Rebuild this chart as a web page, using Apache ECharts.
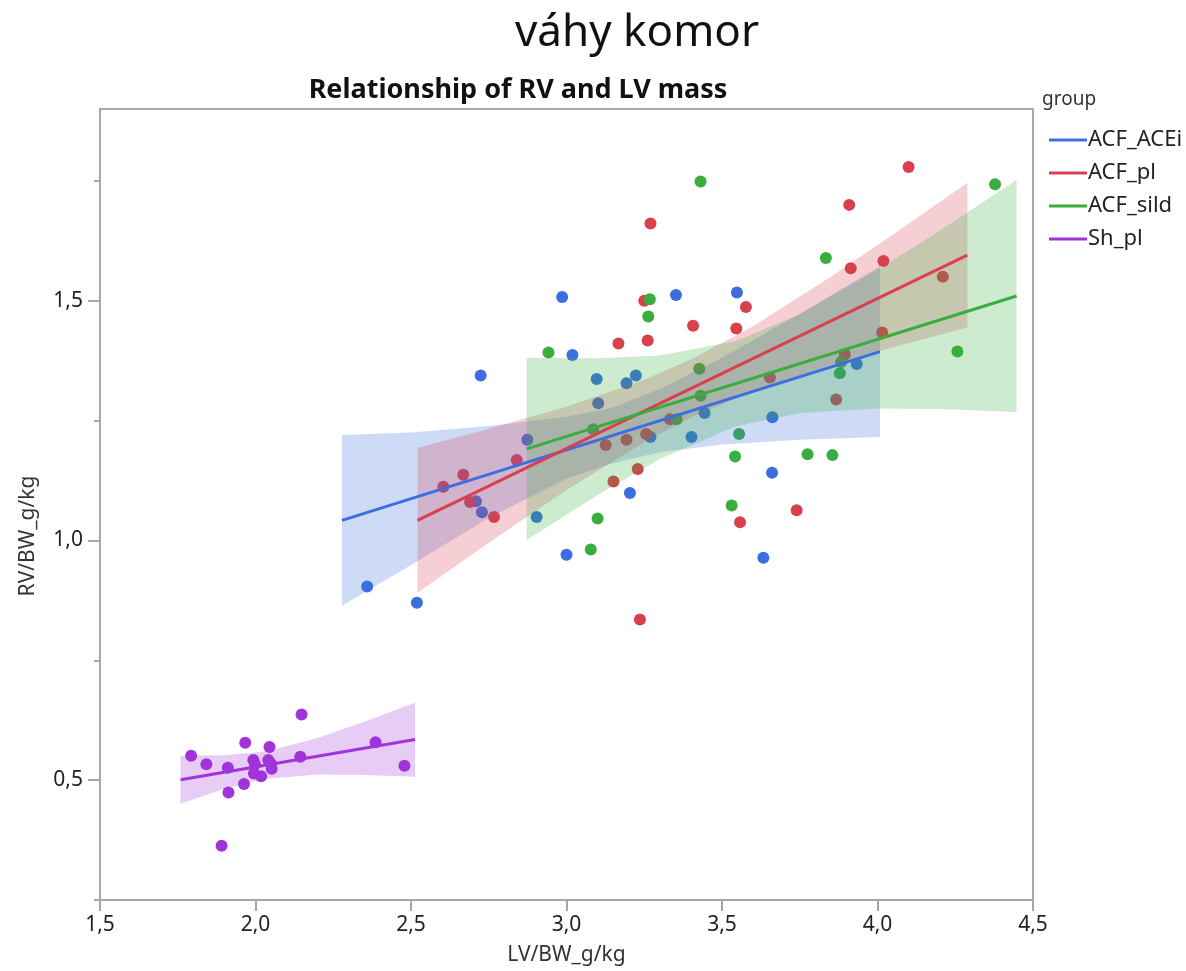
<!DOCTYPE html>
<html>
<head>
<meta charset="utf-8">
<title>váhy komor</title>
<script src="https://cdn.jsdelivr.net/npm/echarts@6/dist/echarts.min.js"></script>
<style>
  html, body { margin: 0; padding: 0; background: #fff; }
  #chart { width: 1186px; height: 971px; }
</style>
</head>
<body>
<div id="chart"></div>
<script>
// Group names and colours
const groups = ['ACF_ACEi', 'ACF_pl', 'ACF_sild', 'Sh_pl'];
const colors = ['#3b6ee0', '#d8404e', '#39ae3f', '#a034d8'];
const bandColors = ['rgba(59,110,224,0.25)', 'rgba(216,64,78,0.25)', 'rgba(57,174,63,0.25)', 'rgba(160,52,216,0.25)'];

// Individual animals: [LV/BW, RV/BW] in g/kg
const aceiPoints = [
  [2.986, 1.508], [3.019, 1.387], [2.724, 1.344], [3.097, 1.337], [3.193, 1.328], [3.223, 1.344],
  [3.102, 1.286], [2.874, 1.210], [2.709, 1.082], [2.728, 1.059], [2.904, 1.049], [3.204, 1.099],
  [3.000, 0.970], [2.359, 0.904], [2.519, 0.870], [3.352, 1.512], [3.548, 1.517], [3.444, 1.266],
  [3.662, 1.257], [3.402, 1.216], [3.661, 1.141], [3.633, 0.964], [3.933, 1.368], [3.270, 1.216]
];
const plPoints = [
  [3.250, 1.500], [3.167, 1.411], [3.261, 1.417], [2.840, 1.168], [2.668, 1.137], [2.604, 1.112],
  [2.690, 1.080], [2.767, 1.049], [3.126, 1.199], [3.193, 1.210], [3.256, 1.222], [3.229, 1.149],
  [3.151, 1.123], [3.236, 0.835], [3.270, 1.661], [3.407, 1.448], [3.577, 1.487], [3.546, 1.442],
  [3.654, 1.340], [3.333, 1.253], [3.558, 1.038], [3.740, 1.063], [4.100, 1.779], [3.909, 1.700],
  [3.914, 1.568], [4.019, 1.583], [4.210, 1.550], [4.015, 1.434], [3.895, 1.388], [3.867, 1.294]
];
const sildPoints = [
  [2.942, 1.392], [3.263, 1.467], [3.268, 1.503], [3.100, 1.046], [3.078, 0.981], [3.086, 1.232],
  [3.431, 1.749], [3.427, 1.358], [3.431, 1.302], [3.354, 1.253], [3.555, 1.222], [3.542, 1.175],
  [3.775, 1.180], [3.531, 1.073], [4.378, 1.743], [3.834, 1.589], [4.257, 1.394], [3.879, 1.349],
  [3.883, 1.372], [3.855, 1.178]
];
const shPoints = [
  [1.793, 0.551], [1.842, 0.533], [1.911, 0.526], [1.913, 0.474], [1.891, 0.363], [1.967, 0.578],
  [1.963, 0.492], [1.993, 0.542], [1.995, 0.514], [2.018, 0.508], [1.998, 0.533], [2.045, 0.569],
  [2.041, 0.542], [2.049, 0.535], [2.052, 0.524], [2.148, 0.637], [2.144, 0.549], [2.386, 0.579],
  [2.479, 0.530]
];

// Linear fit per group: end points of the fitted line
const aceiFit = [[2.278, 1.042], [4.008, 1.394]];
const plFit = [[2.521, 1.042], [4.289, 1.595]];
const sildFit = [[2.872, 1.191], [4.447, 1.510]];
const shFit = [[1.759, 0.501], [2.513, 0.585]];

// Confidence band of each fit: [x, lower, upper]
const aceiBand = [
  [2.278, 0.864, 1.220], [2.500, 0.949, 1.225], [2.750, 1.047, 1.239], [3.000, 1.129, 1.258],
  [3.143, 1.160, 1.276], [3.300, 1.184, 1.316], [3.500, 1.200, 1.381], [3.750, 1.210, 1.473],
  [4.008, 1.216, 1.572]
];
const plBand = [
  [2.521, 0.891, 1.193], [2.750, 0.995, 1.233], [3.000, 1.105, 1.279], [3.250, 1.205, 1.335],
  [3.405, 1.258, 1.379], [3.600, 1.312, 1.447], [3.850, 1.366, 1.550], [4.050, 1.403, 1.638],
  [4.289, 1.444, 1.746]
];
const sildBand = [
  [2.872, 1.001, 1.381], [3.100, 1.095, 1.380], [3.300, 1.170, 1.386], [3.545, 1.238, 1.416],
  [3.750, 1.266, 1.472], [4.000, 1.275, 1.564], [4.200, 1.274, 1.646], [4.447, 1.268, 1.752]
];
const shBand = [
  [1.759, 0.451, 0.551], [1.900, 0.482, 0.552], [2.033, 0.503, 0.560], [2.200, 0.512, 0.588],
  [2.350, 0.511, 0.622], [2.513, 0.507, 0.662]
];

// Axis ticks
const xTicks = [1.5, 2.0, 2.5, 3.0, 3.5, 4.0, 4.5];
const yMajorTicks = [0.5, 1.0, 1.5];
const yMinorTicks = [0.25, 0.75, 1.25, 1.75];

const pointSets = [aceiPoints, plPoints, sildPoints, shPoints];
const fitSets = [aceiFit, plFit, sildFit, shFit];
const bandSets = [aceiBand, plBand, sildBand, shBand];

const FONT = 'Noto Sans';
const AXIS_GREY = '#a8a8a8';
const fmt = v => v.toFixed(1).replace('.', ',');

function bandSeries(i) {
  const rows = bandSets[i];
  return {
    type: 'custom',
    name: groups[i] + ' band',
    z: 3,
    silent: true,
    clip: true,
    data: rows,
    encode: { x: 0, y: [1, 2] },
    renderItem: function (params, api) {
      if (params.dataIndex !== 0) return null;
      const upper = rows.map(r => api.coord([r[0], r[2]]));
      const lower = rows.map(r => api.coord([r[0], r[1]])).reverse();
      return {
        type: 'polygon',
        shape: { points: upper.concat(lower) },
        style: { fill: bandColors[i] }
      };
    }
  };
}

const series = [];
groups.forEach((g, i) => {
  series.push({
    type: 'scatter',
    name: g,
    z: 2,
    data: pointSets[i],
    symbol: 'circle',
    symbolSize: 12,
    itemStyle: { color: colors[i], opacity: 1 }
  });
});
groups.forEach((g, i) => series.push(bandSeries(i)));
groups.forEach((g, i) => {
  series.push({
    type: 'line',
    name: g,
    z: 4,
    data: fitSets[i],
    showSymbol: false,
    symbol: 'none',
    silent: true,
    lineStyle: { color: colors[i], width: 3 },
    itemStyle: { color: colors[i] }
  });
});

const chart = echarts.init(document.getElementById('chart'), null, { renderer: 'canvas' });
chart.setOption({
  animation: false,
  backgroundColor: '#ffffff',
  textStyle: { fontFamily: FONT },
  title: [
    {
      text: 'váhy komor',
      left: 632, top: 6, textAlign: 'center',
      textStyle: { fontFamily: FONT, fontSize: 44, fontWeight: 'normal', color: '#111' }
    },
    {
      text: 'Relationship of RV and LV mass',
      left: 513, top: 72, textAlign: 'center',
      textStyle: { fontFamily: FONT, fontSize: 27, fontWeight: 'bold', color: '#111' }
    }
  ],
  legend: {
    orient: 'vertical',
    left: 1044, top: 124,
    itemWidth: 38, itemHeight: 3, itemGap: 11,
    icon: 'rect',
    data: groups,
    selectedMode: false,
    textStyle: { fontFamily: FONT, fontSize: 22, color: '#222', padding: [0, 0, 0, -4] }
  },
  graphic: [
    {
      type: 'text', left: 1042, top: 90,
      style: { text: 'group', font: '19px "Noto Sans"', fill: '#333' }
    },
    {
      type: 'text', x: 28, y: 536, rotation: Math.PI / 2,
      style: { text: 'RV/BW_g/kg', font: '21px "Noto Sans"', fill: '#333', align: 'center', verticalAlign: 'middle' }
    }
  ],
  grid: {
    left: 100, right: 153, top: 109, bottom: 71,
    show: true, borderColor: AXIS_GREY, borderWidth: 2, backgroundColor: 'transparent'
  },
  xAxis: {
    type: 'value',
    min: 1.5, max: 4.5, interval: 0.5,
    name: 'LV/BW_g/kg', nameLocation: 'middle', nameGap: 45,
    nameTextStyle: { fontFamily: FONT, fontSize: 21, color: '#333' },
    axisLine: { show: true, lineStyle: { color: AXIS_GREY, width: 2 } },
    axisTick: { show: true, length: 11, customValues: xTicks, lineStyle: { color: AXIS_GREY, width: 2 } },
    axisLabel: { margin: 15, fontSize: 21, color: '#222', fontFamily: FONT, customValues: xTicks, formatter: fmt },
    splitLine: { show: false }
  },
  yAxis: [
    {
      type: 'value',
      min: 0.25, max: 1.9,
      axisLine: { show: true, lineStyle: { color: AXIS_GREY, width: 2 } },
      axisTick: { show: true, length: 12, customValues: yMajorTicks, lineStyle: { color: AXIS_GREY, width: 2 } },
      axisLabel: { margin: 17, fontSize: 21, color: '#222', fontFamily: FONT, customValues: yMajorTicks, formatter: fmt },
      splitLine: { show: false }
    },
    {
      type: 'value',
      min: 0.25, max: 1.9,
      position: 'left',
      axisLine: { show: false },
      axisTick: { show: true, length: 6, customValues: yMinorTicks, lineStyle: { color: AXIS_GREY, width: 2 } },
      axisLabel: { show: false },
      splitLine: { show: false }
    }
  ],
  series: series
});
</script>
</body>
</html>
